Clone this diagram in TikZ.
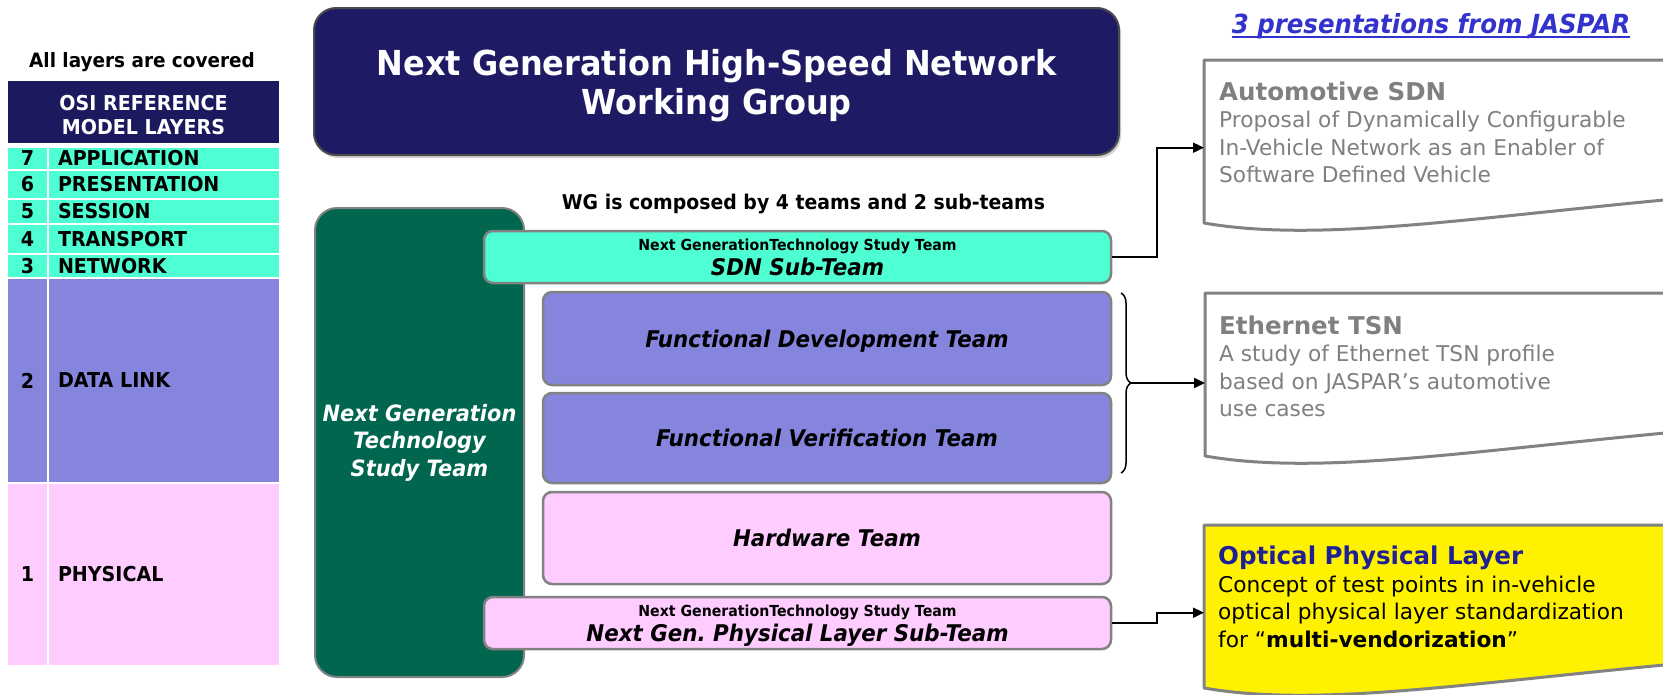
\documentclass[tikz,border=0pt]{standalone}
\usepackage{fontspec}
\setmainfont{DejaVu Sans}[FakeStretch=0.93]
\newfontfamily\docfont{DejaVu Sans}
\usetikzlibrary{arrows.meta,shadows,decorations.pathreplacing}

\definecolor{navy}{RGB}{30,27,100}
\definecolor{osinavy}{RGB}{28,26,94}
\definecolor{layercyan}{RGB}{77,255,210}
\definecolor{layerpurple}{RGB}{133,133,222}
\definecolor{layerpink}{RGB}{255,204,255}
\definecolor{studygreen}{RGB}{0,102,80}
\definecolor{linkblue}{RGB}{51,51,204}
\definecolor{optblue}{RGB}{32,32,150}
\definecolor{docgray}{RGB}{128,128,128}
\definecolor{edgegray}{RGB}{130,130,130}

% document shape with a wavy bottom edge, running off to the right
\newcommand\docoutline[2]{%
  \begin{scope}[shift={(#1.north west)}]
    \draw[draw=edgegray, line width=3pt, fill=#2, line join=round]
      (0,0) -- (520,0) -- (520,135) -- (460,140)
      .. controls (250,160) and (110,182) .. (0,163) -- cycle;
  \end{scope}}

\begin{document}
\begin{tikzpicture}[x=1pt,y=-1pt,
    osihead/.style={fill=osinavy, inner sep=0, minimum width=271, minimum height=62},
    osinum/.style={minimum width=39, inner sep=0,
      font=\fontsize{20.5}{24}\selectfont\bfseries},
    osiname/.style={text width=212pt, align=left, inner xsep=9pt, inner ysep=0,
      font=\fontsize{20.5}{24}\selectfont\bfseries},
    team/.style={draw=edgegray, line width=2.5pt, rounded corners=9pt,
      minimum width=568, text depth=0pt,
      font=\fontsize{23}{27}\selectfont\bfseries\itshape},
    subteam/.style={team, minimum width=627, minimum height=52, align=center,
      inner sep=0},
    doc/.style={minimum width=520, minimum height=175, anchor=north west,
      inner sep=0},
    doctext/.style={anchor=north west, align=left, inner sep=0, text=docgray,
      font=\docfont\fontsize{21.7}{27.5}\selectfont},
    link/.style={-{Triangle[length=11pt,width=10pt]}, line width=1.8pt}]
  \useasboundingbox (0,0) rectangle (1663,694);
  \clip (0,0) rectangle (1663,694);

  % OSI layers
  \node[font=\fontsize{19.8}{24}\selectfont\bfseries] (covered) at (142,62.5) {All layers are covered};
  \node[osihead] (osi) at (143.5,112) {};
  \node[text=white, align=center, font=\fontsize{20.5}{24}\selectfont\bfseries]
    (osititle) at (143.5,115) {OSI REFERENCE\\MODEL LAYERS};
  \foreach \n/\ya/\yb/\lay/\col in {7/148/169/APPLICATION/layercyan,
      6/171/198/PRESENTATION/layercyan, 5/200/223/SESSION/layercyan,
      4/225/253/TRANSPORT/layercyan, 3/255/277/NETWORK/layercyan,
      2/279/482/DATA LINK/layerpurple, 1/484/665/PHYSICAL/layerpink}{
    \node[osinum, fill=\col, minimum height=\yb-\ya] (num\n) at (27.5,{(\ya+\yb)/2}) {\n};
    \node[osiname, fill=\col, minimum height=\yb-\ya] (lay\n) at (164,{(\ya+\yb)/2}) {\lay};
  }

  % working group and its teams
  \node[fill=navy, draw=gray!60!black, line width=2pt, rounded corners=22pt,
    minimum width=805, minimum height=147,
    drop shadow={shadow xshift=2pt, shadow yshift=-3pt, fill=gray!70}]
    (wg) at (716.5,81.5) {};
  \node[text=white, align=center, font=\fontsize{34.4}{39.5}\selectfont\bfseries]
    (wgtitle) at (716.5,85.5) {Next Generation High-Speed Network\\Working Group};
  \node[font=\fontsize{20.3}{24}\selectfont\bfseries] (composed) at (803.5,204)
    {WG is composed by 4 teams and 2 sub-teams};
  \node[fill=studygreen, draw=edgegray, line width=2pt, rounded corners=22pt,
    minimum width=209, minimum height=469, text=white, align=center,
    font=\fontsize{22.5}{27.5}\selectfont\bfseries\itshape]
    (study) at (419.5,442.5) {Next Generation\\Technology\\Study Team};
  \node[subteam, fill=layercyan] (sdnsub) at (797.5,257)
    {{\fontsize{15.2}{18}\selectfont\upshape Next GenerationTechnology Study Team}\\[-2pt]SDN Sub-Team};
  \node[team, fill=layerpurple, minimum height=93] (fundev) at (827,338.5) {Functional Development Team};
  \node[team, fill=layerpurple, minimum height=90] (funver) at (827,438) {Functional Verification Team};
  \node[team, fill=layerpink, minimum height=92] (hardware) at (827,538) {Hardware Team};
  \node[subteam, fill=layerpink] (physsub) at (797.5,623)
    {{\fontsize{15.2}{18}\selectfont\upshape Next GenerationTechnology Study Team}\\[-2pt]Next Gen.\ Physical Layer Sub-Team};

  % presentations
  \node[inner sep=0, anchor=base, text=linkblue,
    font=\fontsize{26.3}{30}\selectfont\bfseries\itshape] (jaspar) at (1431,33.5)
    {3 presentations from JASPAR};
  \draw[linkblue, line width=2pt] ([yshift=-3pt]jaspar.base west) -- ([yshift=-3pt]jaspar.base east);

  \node[doc] (sdndoc) at (1204,60) {};
  \docoutline{sdndoc}{white}
  \node[doctext] (sdntext) at (1219,81.5)
    {{\bfseries\fontsize{24.5}{30}\selectfont Automotive SDN}\\
     Proposal of Dynamically Configurable\\
     In-Vehicle Network as an Enabler of\\
     Software Defined Vehicle};

  \node[doc] (tsndoc) at (1205,293) {};
  \docoutline{tsndoc}{white}
  \node[doctext] (tsntext) at (1219,315.5)
    {{\bfseries\fontsize{24.5}{30}\selectfont Ethernet TSN}\\
     A study of Ethernet TSN profile\\
     based on JASPAR’s automotive\\
     use cases};

  \node[doc] (optdoc) at (1204,525) {};
  \docoutline{optdoc}{yellow}
  \node[doctext, text=black] (opttext) at (1218,546)
    {{\bfseries\fontsize{24.5}{30}\selectfont\color{optblue}Optical Physical Layer}\\
     Concept of test points in in-vehicle\\
     optical physical layer standardization\\
     for “\textbf{multi-vendorization}”};

  % connectors
  \draw[link] (sdnsub.east) -- ++(45,0) |- (sdndoc.west);
  \draw[line width=1.5pt, decorate, decoration={brace, amplitude=10pt}] (1121,293) -- (1121,473);
  \coordinate (bracetip) at (1131,383);
  \draw[link] (bracetip) -- (bracetip -| tsndoc.west);
  \draw[link] (physsub.east) -- ++(45,0) |- (optdoc.west);
\end{tikzpicture}
\end{document}
